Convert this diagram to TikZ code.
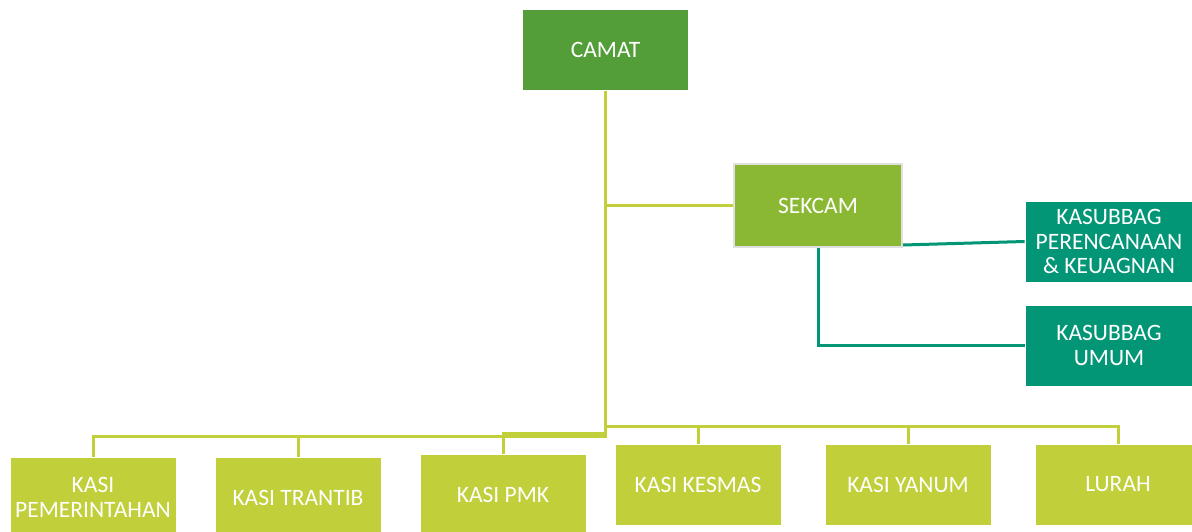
\documentclass[tikz,border=0pt]{standalone}
\usepackage{fontspec}
\setmainfont{Carlito}
\definecolor{gA}{HTML}{549E39}
\definecolor{gB}{HTML}{8AB833}
\definecolor{gC}{HTML}{C0CF3A}
\definecolor{gD}{HTML}{029676}
\tikzset{
  box/.style={minimum width=166pt, minimum height=81pt, inner sep=0pt, align=center,
    text=white, font=\fontsize{23.5}{24.5}\selectfont, draw=white, line width=0.8pt},
  bxA/.style={box, fill=gA},
  bxB/.style={box, fill=gB, draw=black!12, line width=2pt, minimum width=168pt, minimum height=83pt},
  bxC/.style={box, fill=gC},
  bxD/.style={box, fill=gD, minimum width=168pt},
  lnC/.style={draw=gC, line width=3pt},
  lnD/.style={draw=gD, line width=3pt},
}
\begin{document}
\begin{tikzpicture}[x=1pt,y=-1pt]
\useasboundingbox (0,0) rectangle (1192,532);
\clip (0,0) rectangle (1192,532);
\fill[white] (0,0) rectangle (1192,532);
% nodes
\node[bxA] (camat) at (605.5,50) {CAMAT};
\node[bxB] (sekcam) at (818,205.5) {SEKCAM};
\node[bxD] (kas1) at (1109,241.5) {KASUBBAG\\PERENCANAAN\\\& KEUAGNAN};
\node[bxD] (kas2) at (1109,345.5) {KASUBBAG\\UMUM};
\node[bxC] (k1) at (93,497.5) {KASI\\PEMERINTAHAN};
\node[bxC] (k2) at (298,497.5) {KASI TRANTIB};
\node[bxC] (k3) at (503,494.5) {KASI PMK};
\node[bxC] (k4) at (698,484.5) {KASI KESMAS};
\node[bxC] (k5) at (908,484.5) {KASI YANUM};
\node[bxC] (k6) at (1118,484.5) {LURAH};
% connectors
\draw[lnC] (camat.south) |- (sekcam.west);
\draw[lnC] (camat.south) |- ([yshift=20pt]k1.north) -| (k1.north);
\draw[lnC] (camat.south) |- ([yshift=20pt]k2.north) -| (k2.north);
\draw[lnC] (camat.south) |- ([yshift=20pt]k3.north) -| (k3.north);
\draw[lnC] (camat.south) |- ([yshift=17pt]k4.north) -| (k4.north);
\draw[lnC] (camat.south) |- ([yshift=17pt]k5.north) -| (k5.north);
\draw[lnC] (camat.south) |- ([yshift=17pt]k6.north) -| (k6.north);
\draw[lnD] ([yshift=3pt]sekcam.south east) -- (kas1.west);
\draw[lnD] (sekcam.south) |- (kas2.west);
\end{tikzpicture}
\end{document}
